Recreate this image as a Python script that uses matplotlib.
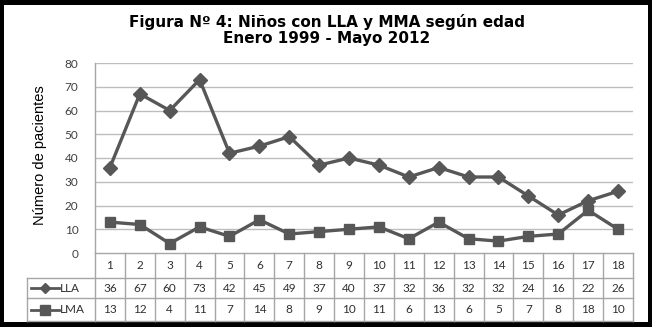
import matplotlib
matplotlib.use("Agg")
import matplotlib.pyplot as plt
from matplotlib.patches import Rectangle
from matplotlib.lines import Line2D
import matplotlib.transforms as mtransforms

# ---- data ----
categories = [str(i) for i in range(1, 19)]
lla = [36, 67, 60, 73, 42, 45, 49, 37, 40, 37, 32, 36, 32, 32, 24, 16, 22, 26]
lma = [13, 12, 4, 11, 7, 14, 8, 9, 10, 11, 6, 13, 6, 5, 7, 8, 18, 10]
series_names = ["LLA", "LMA"]
yticks = [0, 10, 20, 30, 40, 50, 60, 70, 80]
title = "Figura Nº 4: Niños con LLA y MMA según edad\nEnero 1999 - Mayo 2012"
ylabel = "Número de pacientes"

W, H = 652, 327
fig = plt.figure(figsize=(W / 100, H / 100), dpi=100)
fig.patch.set_facecolor("black")

def fx(px):
    return px / W

def fy(py):
    return 1 - py / H

# white page inside black border
fig.patches.append(Rectangle((fx(4), fy(322)), fx(648) - fx(4), fy(5) - fy(322),
                             transform=fig.transFigure, facecolor="white",
                             edgecolor="none", zorder=-10))

ax_l, ax_r, ax_t, ax_b = 95, 633, 63, 253
ax = fig.add_axes([fx(ax_l), fy(ax_b), fx(ax_r) - fx(ax_l), fy(ax_t) - fy(ax_b)])
ax.set_zorder(1)
ax.patch.set_alpha(0)

line_col = "#575757"
grid_col = "#bdbdbd"
tab_col = "#a6a6a6"

x = list(range(1, len(categories) + 1))
ax.plot(x, lla, color=line_col, lw=2.4, marker="D", ms=7, mfc=line_col, mec=line_col, zorder=3)
ax.plot(x, lma, color=line_col, lw=2.4, marker="s", ms=7.5, mfc=line_col, mec=line_col, zorder=3)

ax.set_xlim(0.5, len(categories) + 0.5)
ax.set_ylim(0, 80)
ax.set_yticks(yticks)
ax.set_yticklabels([str(v) for v in yticks], fontsize=8.5, color="#404040", family="Lato")
ax.tick_params(axis="y", length=0, pad=12)
ax.set_xticks([])
for yv in yticks[1:]:
    ax.axhline(yv, color=grid_col, lw=1, zorder=1)
for s in ["top", "right"]:
    ax.spines[s].set_visible(False)
ax.spines["left"].set_color(tab_col)
ax.spines["bottom"].set_color(tab_col)
ax.spines["left"].set_linewidth(1)
ax.spines["bottom"].set_linewidth(1)

fig.text(fx(40), fy(155), ylabel, rotation=90, ha="center", va="center",
         fontsize=10.5, family="Liberation Sans", color="black")

fig.text(fx(327), fy(30), title, ha="center", va="center", fontsize=11,
         fontweight="bold", family="DejaVu Sans", linespacing=1.1)

# ---- data table ----
blend = mtransforms.blended_transform_factory(ax.transData, fig.transFigure)
row_y = [253, 278, 298, 321]
tab_left = 27

def hline(x0, x1, py):
    fig.add_artist(Line2D([fx(x0), fx(x1)], [fy(py), fy(py)], transform=fig.transFigure,
                          color=tab_col, lw=1))

def vline(px, y0, y1):
    fig.add_artist(Line2D([fx(px), fx(px)], [fy(y0), fy(y1)], transform=fig.transFigure,
                          color=tab_col, lw=1))

for py in row_y[1:]:
    hline(tab_left, ax_r, py)
vline(tab_left, row_y[1], row_y[3])
colw = (ax_r - ax_l) / len(categories)
for k in range(len(categories) + 1):
    vline(ax_l + k * colw, row_y[0], row_y[3])

rows = [categories, [str(v) for v in lla], [str(v) for v in lma]]
for r, vals in enumerate(rows):
    yc = fy((row_y[r] + row_y[r + 1]) / 2)
    for xi, v in zip(x, vals):
        fig.text(xi, yc, v, transform=blend, ha="center", va="center",
                 fontsize=8.5, family="Lato", color="#303030")

markers = ["D", "s"]
msz = [5, 7]
for r, (name, mk, ms) in enumerate(zip(series_names, markers, msz)):
    yc = fy((row_y[r + 1] + row_y[r + 2]) / 2)
    fig.add_artist(Line2D([fx(31), fx(59)], [yc, yc], transform=fig.transFigure,
                          color=line_col, lw=2, marker=None))
    fig.add_artist(Line2D([fx(45)], [yc], transform=fig.transFigure,
                          color=line_col, marker=mk, ms=ms, mfc=line_col, mec=line_col))
    fig.text(fx(60), yc, name, ha="left", va="center", fontsize=8.5,
             family="Lato", color="#303030")

fig.savefig("out.png", dpi=100, facecolor=fig.get_facecolor())
